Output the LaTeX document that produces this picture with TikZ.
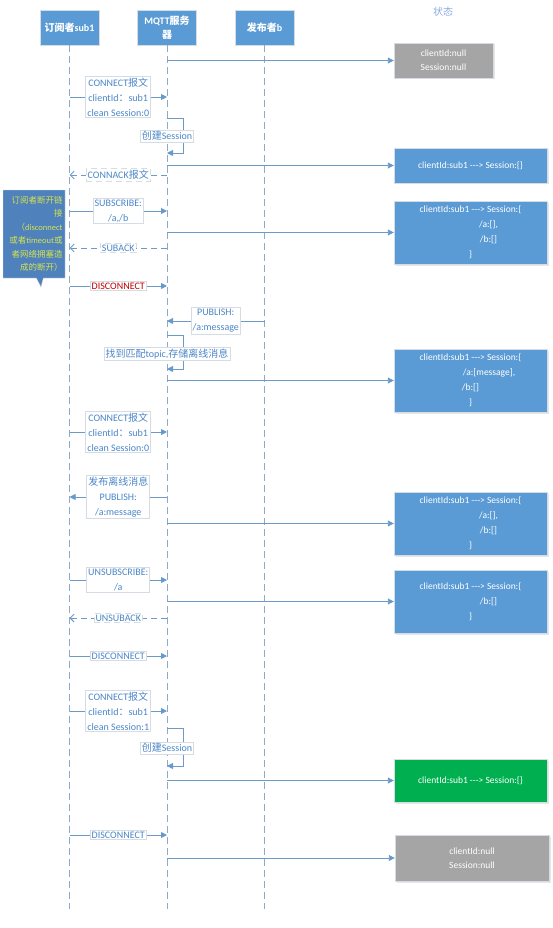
\documentclass[tikz,border=0pt]{standalone}
\usepackage{fontspec}
\setmainfont{Carlito}
\newfontfamily\cjk{Noto Sans CJK SC}
\newcommand{\zhs}[1]{{\cjk #1}}
\usetikzlibrary{positioning,arrows.meta,shapes.callouts,shadows}
\definecolor{hdrblue}{HTML}{5B9BD5}
\definecolor{lifegray}{HTML}{8EAACB}
\definecolor{msgblue}{HTML}{6E9AC9}
\definecolor{lbltext}{HTML}{4A86C8}
\definecolor{lblborder}{HTML}{D6DCE4}
\definecolor{stgray}{HTML}{A5A5A5}
\definecolor{stgreen}{HTML}{00B050}
\definecolor{notefill}{HTML}{4F81BD}
\definecolor{notetext}{HTML}{D7E44C}
\definecolor{titletext}{HTML}{8EAADB}
\definecolor{discred}{HTML}{C00000}

\begin{document}
\begin{tikzpicture}[x=1pt,y=-1pt,
  actor/.style={draw=lblborder,fill=hdrblue,minimum width=59pt,minimum height=35pt,text=white,
    font=\bfseries\fontsize{10}{14}\selectfont,align=center,inner sep=1pt},
  lifeline/.style={draw=lifegray,line width=1pt,dash pattern=on 7pt off 4pt},
  msg/.style={draw=msgblue,line width=0.9pt,-{Triangle[length=6pt,width=6pt,fill=hdrblue]}},
  reply/.style={draw=msgblue,line width=0.9pt,dash pattern=on 6pt off 4pt,-{Straight Barb[length=4pt,width=8pt]}},
  lbl/.style={fill=white,draw=lblborder,text=lbltext,font=\fontsize{10}{15}\selectfont,align=center,inner sep=1.5pt},
  statebox/.style={draw=lblborder,fill=hdrblue,text=white,minimum width=153pt,
    font=\fontsize{9.5}{15}\selectfont,align=center,
    drop shadow={opacity=0.2,shadow xshift=1.5pt,shadow yshift=-1.5pt}},
  notebox/.style={rectangle callout,draw=lblborder,fill=notefill,text=notetext,text width=57pt,
    minimum height=88pt,align=right,inner sep=2.5pt,font=\fontsize{8.5}{13.5}\selectfont}]
\useasboundingbox (0,0) rectangle (553,928);

\node[actor] (sub) at (69.5,27.5) {\zhs{订阅者}sub1};
\node[actor] (srv) at (167,27.5) {MQTT\zhs{服务}\\\zhs{器}};
\node[actor] (pub) at (264.5,27.5) {\zhs{发布者}b};
\node[text=titletext,font=\fontsize{10}{12}\selectfont] (title) at (443,12) {\zhs{状态}};

\coordinate (subend) at (sub.south |- 0,909);
\coordinate (srvend) at (srv.south |- 0,909);
\coordinate (pubend) at (pub.south |- 0,909);
\draw[lifeline] (sub.south) -- (subend);
\draw[lifeline] (srv.south) -- (srvend);
\draw[lifeline] (pub.south) -- (pubend);

\foreach \m/\y in {conna/97,connacka/175,subs/211,suback/248,disca/286,publ/321,connb/432,
  offl/497,unsub/580,unsuback/618,discb/656,connc/711,discc/835,
  loopa/118,loopae/153,loopb/335,loopbe/369,loopc/728,loopce/766}
  {\coordinate (a\m) at (sub.south |- 0,\y);
   \coordinate (b\m) at (srv.south |- 0,\y);
   \coordinate (c\m) at (pub.south |- 0,\y);}

% states
\node[statebox,fill=stgray,minimum width=99pt,minimum height=35pt] (st0) at (443.5,60.5) {clientId:null\\[-1pt]Session:null};
\node[statebox,minimum height=35pt] (st1) at (470.5,165.5) {clientId:sub1 -{}-{}-> Session:\{\}};
\node[statebox,minimum height=63pt] (st2) at (470.5,232.5)
  {clientId:sub1 -{}-{}-> Session:\{\\\hspace*{36pt}/a:[],\\\hspace*{36pt}/b:[]\\\}};
\node[statebox,minimum height=63pt] (st3) at (470.5,380.5)
  {clientId:sub1 -{}-{}-> Session:\{\\\hspace*{37pt}/a:[message],\\/b:[]\\\}};
\node[statebox,minimum height=63pt] (st4) at (470.5,523.5)
  {clientId:sub1 -{}-{}-> Session:\{\\\hspace*{36pt}/a:[],\\\hspace*{36pt}/b:[]\\\}};
\node[statebox,minimum height=63pt] (st5) at (470.5,601.5)
  {clientId:sub1 -{}-{}-> Session:\{\\\hspace*{36pt}/b:[]\\\}};
\node[statebox,fill=stgreen,minimum height=43pt] (st6) at (470.5,780.5) {clientId:sub1 -{}-{}-> Session:\{\}};
\node[statebox,fill=stgray,minimum width=154pt,minimum height=46pt] (st7) at (472,858) {clientId:null\\[-1pt]Session:null};
\foreach \s in {st0,st1,st2,st3,st4,st5,st6,st7}
  \draw[msg] (srv.south |- \s.west) -- (\s.west);

% messages
\draw[msg] (aconna) -- node[lbl] {CONNECT\zhs{报文}\\clientId\zhs{：}sub1\\clean Session:0} (bconna);
\draw[msg] (bloopa) -- ++(16,0) |- (bloopae);
\node[lbl] (loopalbl) at (167,136) {\zhs{创建}Session};
\draw[reply] (bconnacka) -- node[lbl] {CONNACK\zhs{报文}} (aconnacka);
\draw[msg] (asubs) -- node[lbl] {SUBSCRIBE:\\/a,/b} (bsubs);
\draw[reply] (bsuback) -- node[lbl] {SUBACK} (asuback);
\draw[msg] (adisca) -- node[lbl,text=discred] {DISCONNECT} (bdisca);
\node[notebox,callout absolute pointer={(41,287)}] (note) at (34,234)
  {\zhs{订阅者断开链}\\\zhs{接}\\\zhs{（}disconnect\\\zhs{或者}timeout\zhs{或}\\\zhs{者网络拥塞造}\\\zhs{成的断开）}};
\draw[msg] (cpubl) -- node[lbl] {PUBLISH:\\/a:message} (bpubl);
\draw[msg] (bloopb) -- ++(16,0) |- (bloopbe);
\node[lbl] (loopblbl) at (167,354) {\zhs{找到匹配}topic,\zhs{存储离线消息}};
\draw[msg] (aconnb) -- node[lbl] {CONNECT\zhs{报文}\\clientId\zhs{：}sub1\\clean Session:0} (bconnb);
\draw[msg] (boffl) -- node[lbl] {\zhs{发布离线消息}\\PUBLISH:\\/a:message} (aoffl);
\draw[msg] (aunsub) -- node[lbl] {UNSUBSCRIBE:\\/a} (bunsub);
\draw[reply] (bunsuback) -- node[lbl] {UNSUBACK} (aunsuback);
\draw[msg] (adiscb) -- node[lbl] {DISCONNECT} (bdiscb);
\draw[msg] (aconnc) -- node[lbl] {CONNECT\zhs{报文}\\clientId\zhs{：}sub1\\clean Session:1} (bconnc);
\draw[msg] (bloopc) -- ++(16,0) |- (bloopce);
\node[lbl] (loopclbl) at (167,748) {\zhs{创建}Session};
\draw[msg] (adiscc) -- node[lbl] {DISCONNECT} (bdiscc);
\end{tikzpicture}
\end{document}
